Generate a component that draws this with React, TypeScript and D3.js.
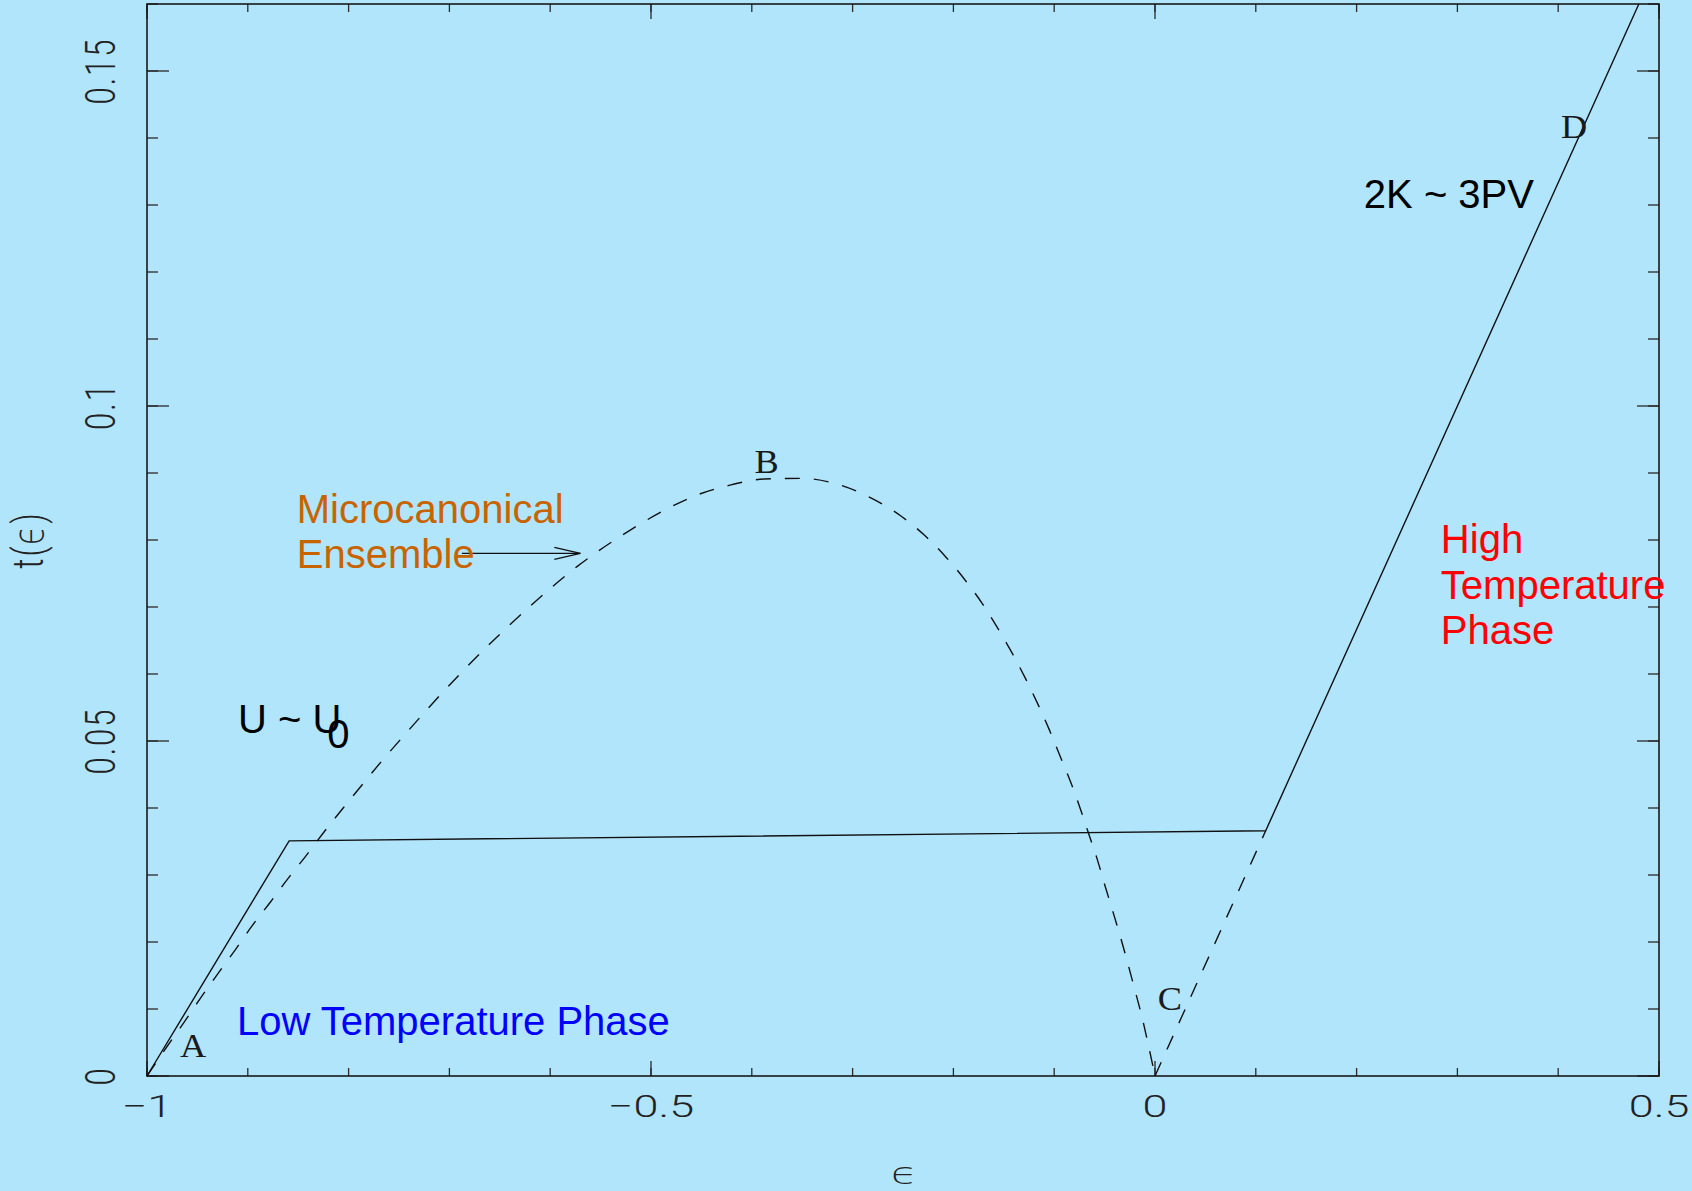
import React from 'react';
import * as d3 from 'd3';

const W = 1692;
const H = 1191;
const margin = { top: 4, right: 33, bottom: 115, left: 147 };

// axes
const xDomain = [-1, 0.5];
const yDomain = [0, 0.16];
const xMajor = [-1, -0.5, 0, 0.5];
const xTickLabels = ['\u22121', '\u22120.5', '0', '0.5'];
const yMajor = [0, 0.05, 0.1, 0.15];
const yTickLabels = ['0', '0.05', '0.1', '0.15'];
const xTitle = '\u03f5';
const yTitle = 't(\u03f5)';

// canonical ensemble (solid)
const canonical = [
  [-1, 0],
  [-0.859, 0.0351],
  [0.1098, 0.0366],
  [0.48, 0.16],
];

// microcanonical ensemble (dashed)
const microcanonical = [
  [-1, 0], [-0.9801, 0.0044], [-0.9633, 0.008], [-0.9466, 0.0117],
  [-0.93, 0.0152], [-0.9126, 0.0188], [-0.8958, 0.0224], [-0.8779, 0.0259],
  [-0.86, 0.0295], [-0.8421, 0.0329], [-0.824, 0.0365], [-0.8054, 0.04],
  [-0.7869, 0.0434], [-0.7677, 0.0469], [-0.7481, 0.0503], [-0.6876, 0.0603],
  [-0.6208, 0.07], [-0.5728, 0.0761], [-0.5182, 0.0817], [-0.486, 0.0845],
  [-0.451, 0.0869], [-0.4239, 0.0881], [-0.3878, 0.0891], [-0.3505, 0.0892],
  [-0.3147, 0.0883], [-0.2819, 0.0863], [-0.2531, 0.0837], [-0.2286, 0.0807],
  [-0.2071, 0.0774], [-0.1883, 0.074], [-0.1708, 0.0704], [-0.1559, 0.0668],
  [-0.1413, 0.063], [-0.1284, 0.0593], [-0.1162, 0.0555], [-0.1049, 0.0517],
  [-0.0943, 0.0478], [-0.084, 0.044], [-0.0748, 0.0402], [-0.0661, 0.0363],
  [-0.0572, 0.0323], [-0.0496, 0.0284], [-0.0417, 0.0245], [-0.034, 0.0206],
  [-0.0268, 0.0167], [-0.0199, 0.0128], [-0.0129, 0.0088], [-0.007, 0.0049],
  [0, 0],
];
const gasBranch = [
  [0, 0],
  [0.1098, 0.0366],
];

// point labels
const pointLabels = [
  { text: 'A', x: -0.9672, y: 0.0028 },
  { text: 'B', x: -0.3974, y: 0.09 },
  { text: 'C', x: 0.0027, y: 0.0099 },
  { text: 'D', x: 0.4027, y: 0.14 },
];

// annotations (left x, baselines)
const notes = [
  { lines: ['Low Temperature Phase'], x: -0.9107, y: [0.0061], color: '#0000ff' },
  { lines: ['Microcanonical', 'Ensemble'], x: -0.8514, y: [0.0826, 0.0758], color: '#c86400' },
  { lines: ['2K ~ 3PV'], x: 0.2072, y: [0.1296], color: '#000000' },
  { lines: ['High', 'Temperature', 'Phase'], x: 0.2836, y: [0.0781, 0.0712, 0.0645], color: '#ff0000' },
  { lines: ['U ~ U'], x: -0.9097, y: [0.0512], color: '#000000' },
  { lines: ['0'], x: -0.8213, y: [0.049], color: '#000000' },
];

const arrowFrom = [-0.6876, 0.078];
const arrowTo = [-0.5701, 0.078];

const tickFont = 'Roboto, "DejaVu Sans", sans-serif';

export default function App() {
  const x = d3.scaleLinear().domain(xDomain).range([margin.left, W - margin.right]);
  const y = d3.scaleLinear().domain(yDomain).range([H - margin.bottom, margin.top]);
  const x0 = x.range()[0], x1 = x.range()[1];
  const y0 = y.range()[0], y1 = y.range()[1];

  const line = d3.line<number[]>().x((d) => x(d[0])).y((d) => y(d[1]));
  const smooth = d3
    .line<number[]>()
    .x((d) => x(d[0]))
    .y((d) => y(d[1]))
    .curve(d3.curveMonotoneX);

  const xMinor = d3.range(-1, 0.5001, 0.1);
  const yMinor = d3.range(0, 0.1601, 0.01);

  const ax = x(arrowTo[0]);
  const ay = y(arrowTo[1]);

  return (
    <svg
      width={W}
      height={H}
      style={{ position: 'absolute', left: 0, top: 0, display: 'block' }}
    >
      <rect x={0} y={0} width={W} height={H} fill="#b1e5fc" />

      {/* ticks */}
      <g stroke="#2a2a2a" strokeWidth={1.3}>
        {xMinor.map((v, i) => (
          <g key={'xm' + i}>
            <line x1={x(v)} x2={x(v)} y1={y0} y2={y0 - 8} />
            <line x1={x(v)} x2={x(v)} y1={y1} y2={y1 + 8} />
          </g>
        ))}
        {xMajor.map((v, i) => (
          <g key={'xM' + i}>
            <line x1={x(v)} x2={x(v)} y1={y0} y2={y0 - 15} />
            <line x1={x(v)} x2={x(v)} y1={y1} y2={y1 + 15} />
          </g>
        ))}
        {yMinor.map((v, i) => (
          <g key={'ym' + i}>
            <line x1={x0} x2={x0 + 11} y1={y(v)} y2={y(v)} />
            <line x1={x1} x2={x1 - 11} y1={y(v)} y2={y(v)} />
          </g>
        ))}
        {yMajor.map((v, i) => (
          <g key={'yM' + i}>
            <line x1={x0} x2={x0 + 22} y1={y(v)} y2={y(v)} />
            <line x1={x1} x2={x1 - 22} y1={y(v)} y2={y(v)} />
          </g>
        ))}
      </g>
      <rect
        x={x0}
        y={y1}
        width={x1 - x0}
        height={y0 - y1}
        fill="none"
        stroke="#1a1a1a"
        strokeWidth={1.6}
      />

      {/* tick labels */}
      <g fill="#222" fontFamily={tickFont} fontWeight={300} fontSize={31}>
        {xMajor.map((v, i) => (
          <text
            key={'xl' + i}
            textAnchor="middle"
            transform={`translate(${x(v)},${y0 + 41}) scale(1.45,1)`}
          >
            {xTickLabels[i]}
          </text>
        ))}
        {yMajor.map((v, i) => (
          <text
            key={'yl' + i}
            textAnchor="middle"
            letterSpacing={2}
            transform={`translate(${x0 - 32},${y(v)}) rotate(-90) scale(1,1.4)`}
          >
            {yTickLabels[i]}
          </text>
        ))}
        <text
          textAnchor="middle"
          letterSpacing={2}
          transform={`translate(43,${(y0 + y1) / 2}) rotate(-90) scale(1,1.4)`}
        >
          {yTitle}
        </text>
        <text textAnchor="middle" transform={`translate(${(x0 + x1) / 2 + 1},1184) scale(1.4,1)`}>
          {xTitle}
        </text>
      </g>

      {/* curves */}
      <path d={line(canonical) || ''} fill="none" stroke="#111" strokeWidth={1.4} />
      <path
        d={smooth(microcanonical) || ''}
        fill="none"
        stroke="#111"
        strokeWidth={1.4}
        strokeDasharray="15 14"
      />
      <path
        d={line(gasBranch) || ''}
        fill="none"
        stroke="#111"
        strokeWidth={1.4}
        strokeDasharray="15 14"
      />

      {/* arrow */}
      <g stroke="#111" strokeWidth={1.4} fill="none">
        <line x1={x(arrowFrom[0])} y1={y(arrowFrom[1])} x2={ax} y2={ay} />
        <path d={`M${ax - 26},${ay - 6}L${ax},${ay}L${ax - 26},${ay + 6}`} />
      </g>

      {/* point labels */}
      <g fill="#1a1a1a" fontFamily='"Liberation Serif", serif' fontSize={33}>
        {pointLabels.map((p) => (
          <text key={p.text} transform={`translate(${x(p.x)},${y(p.y)}) scale(1.1,1)`}>
            {p.text}
          </text>
        ))}
      </g>

      {/* annotations */}
      <g fontFamily='"Liberation Sans", Arial, sans-serif' fontSize={40}>
        {notes.map((n, i) =>
          n.lines.map((s, j) => (
            <text key={i + '-' + j} x={x(n.x)} y={y(n.y[j])} fill={n.color}>
              {s}
            </text>
          ))
        )}
      </g>
    </svg>
  );
}
